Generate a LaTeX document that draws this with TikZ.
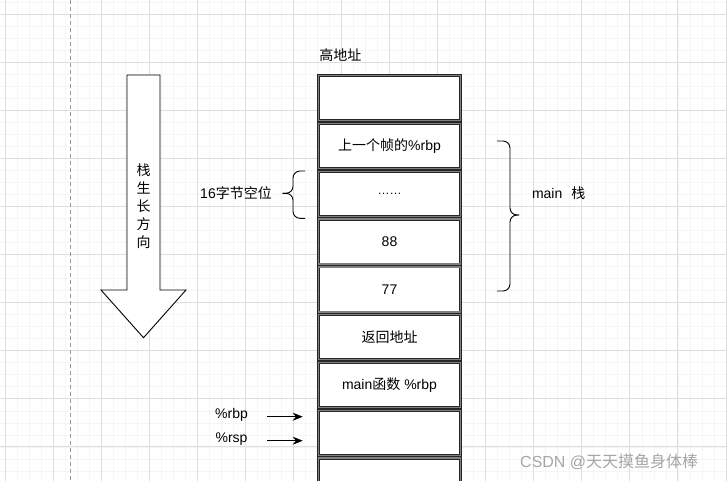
\documentclass[tikz,border=0pt]{standalone}
\usepackage{fontspec}
\setmainfont{Liberation Sans}
\newfontfamily\cjkfont{Noto Sans CJK SC}
\newcommand{\zh}[1]{{\cjkfont #1}}
\usepackage{tikz}
\usetikzlibrary{arrows.meta,positioning}
\tikzset{
  gridminor/.style={draw=black!4, line width=0.6pt},
  gridmajor/.style={draw=black!13, line width=0.8pt},
  cell/.style={draw=black!85, double=black!50, double distance=1.3pt, line width=0.75pt,
    fill=white, minimum width=141.4pt, minimum height=45pt, inner sep=0pt, outer sep=0pt},
  ptr/.style={-{Stealth[length=10pt,width=8pt]}, line width=0.9pt},
  brace/.style={line width=0.9pt, rounded corners=7pt}
}

\begin{document}
\begin{tikzpicture}[x=1pt, y=-1pt, node distance=2.8pt, font=\fontsize{14}{17}\selectfont]
\useasboundingbox (0,0) rectangle (727,480);
\clip (0,0) rectangle (727,480);
\fill[white] (0,0) rectangle (727,480);

%%背景の方眼
\begin{scope}[shift={(5,14.3)}]
\draw [gridminor] (-6,470) grid[step=12.015pt] (724,-16);
\draw [gridmajor] (-6,470) grid[step=48.06pt] (724,-16);
\end{scope}
   %(5,14.3)を基準に"細かい方眼"と"48pt毎の太めの方眼"
\draw [black!40, line width=0.8pt, dash pattern=on 4pt off 3pt] (70.7,0) -- (70.7,480);
   %左端の"灰色の破線"

%%栈生长方向の大きな矢印
\filldraw [fill=white, draw=black, line width=0.9pt] (127,75) -- (160,75) -- (160,290) -- (186,290)
   -- (143.5,337.7) -- (101,290) -- (127,290) -- cycle;
\node [align=center, font=\cjkfont\fontsize{14}{18}\selectfont] (grow) at (143.5,206) {栈\\生\\长\\方\\向};

%%スタックの枠
\node [font=\cjkfont\fontsize{14}{17}\selectfont] (high) at (340.3,55.5) {高地址};
\node [cell] (b1) at (389.5,98.2) {};
\node [cell, below=of b1] (b2) {\zh{上一个帧的}\%rbp};
\node [cell, below=of b2] (b3) {\fontsize{12}{14}\selectfont ……};
\node [cell, below=of b3] (b4) {88};
\node [cell, below=of b4] (b5) {77};
\node [cell, below=of b5] (b6) {\zh{返回地址}};
\node [cell, below=of b6] (b7) {main\zh{函数} \%rbp};
\node [cell, below=of b7] (b8) {};
\node [cell, below=of b8] (b9) {};
   %上から順に"二重線の箱"を隙間なく並べる

%%中括弧とその説明
\draw [brace] (305,171) -| (293,193.3) -- (282.7,193.3);
\draw [brace] (282.7,193.3) -- (293,193.3) |- (305,218.3);
\node (gap) at (236,193.3) {16\zh{字节空位}};
\draw [brace] (497,141) -| (510,215) -- (519,215);
\draw [brace] (519,215) -- (510,215) |- (497,291);
\node (mainstack) at (558.7,193.3) {main\hspace{9pt}\zh{栈}};

%%レジスタの矢印
\node (rbp) at (231.5,415) {\%rbp};
\node (rsp) at (231.5,439.3) {\%rsp};
\coordinate (rbp-s) at (267.3,416.7); \coordinate (rbp-e) at (302.7,416.7);
\coordinate (rsp-s) at (267.3,440.7); \coordinate (rsp-e) at (302.7,440.7);
\draw [ptr] (rbp-s) -- (rbp-e);
\draw [ptr] (rsp-s) -- (rsp-e);
   %"%rbp","%rsp"から右向きの矢印

%%透かし
\node [text=black!35, font=\fontsize{16}{19}\selectfont] (mark) at (609.2,461.7) {CSDN @\zh{天天摸鱼身体棒}};
\end{tikzpicture}
\end{document}
